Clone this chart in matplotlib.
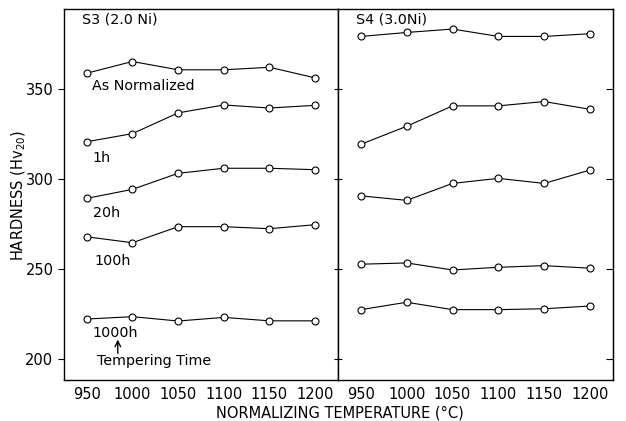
import numpy as np
import matplotlib.pyplot as plt

temps = [950, 1000, 1050, 1100, 1150, 1200]

# S3 (2.0Ni)
s3_norm = [358.7, 365.2, 360.6, 360.6, 362.0, 356.1]
s3_1h = [320.7, 325.2, 336.7, 341.1, 339.4, 340.9]
s3_20h = [289.3, 294.3, 303.2, 306.0, 306.0, 305.2]
s3_100h = [268.0, 264.7, 273.6, 273.6, 272.5, 274.7]
s3_1000h = [222.4, 223.7, 221.3, 223.3, 221.4, 221.4]

# S4 (3.0Ni)
s4_norm = [379.1, 381.3, 383.2, 379.1, 379.1, 380.6]
s4_1h = [319.3, 329.3, 340.6, 340.6, 343.0, 338.7]
s4_20h = [290.7, 288.2, 297.6, 300.4, 297.6, 305.0]
s4_100h = [252.8, 253.5, 249.6, 251.1, 252.0, 250.6]
s4_1000h = [227.6, 231.7, 227.6, 227.6, 228.1, 229.6]

s3_series = [s3_norm, s3_1h, s3_20h, s3_100h, s3_1000h]
s4_series = [s4_norm, s4_1h, s4_20h, s4_100h, s4_1000h]

plt.rcParams['font.family'] = 'DejaVu Sans'
fig = plt.figure(figsize=(6.26, 4.21), dpi=100)
ax1 = fig.add_axes([0.102, 0.097, 0.438, 0.882])
ax2 = fig.add_axes([0.540, 0.097, 0.439, 0.882], sharey=ax1)

style = dict(color='black', lw=0.8, marker='o', ms=5, mfc='white', mec='black', mew=0.8)
for s in s3_series:
    ax1.plot(temps, s, **style)
for s in s4_series:
    ax2.plot(temps, s, **style)

for ax in (ax1, ax2):
    ax.set_xlim(925, 1225)
    ax.set_xticks(temps)
    ax.tick_params(axis='x', length=0, labelsize=10.5, pad=5)
    for sp in ax.spines.values():
        sp.set_linewidth(1.0)

ax1.set_ylim(188.5, 394.4)
ax1.set_yticks([200, 250, 300, 350])
ax1.tick_params(axis='y', direction='out', length=4, labelsize=10.5)
ax2.tick_params(axis='y', direction='inout', length=6, labelleft=False)
ax2r = ax2.secondary_yaxis('right')
ax2r.set_yticks([200, 250, 300, 350])
ax2r.tick_params(direction='in', length=5, labelright=False)

# annotations
fs = 10.3
ax1.text(944.5, 388.3, 'S3 (2.0 Ni)', fontsize=fs, va='center', ha='left')
ax2.text(944.9, 388.3, 'S4 (3.0Ni)', fontsize=fs, va='center', ha='left')
ax1.text(955.5, 351.7, 'As Normalized', fontsize=fs, va='center')
ax1.text(956.6, 311.7, '1h', fontsize=fs, va='center')
ax1.text(956.6, 281.0, '20h', fontsize=fs, va='center')
ax1.text(958.8, 254.4, '100h', fontsize=fs, va='center')
ax1.text(956.6, 214.4, '1000h', fontsize=fs, va='center')
ax1.annotate('', xy=(984, 211.0), xytext=(984, 203.4),
             arrowprops=dict(arrowstyle='->', lw=1.0, color='black',
                             shrinkA=0, shrinkB=0))
ax1.text(961, 198.9, 'Tempering Time', fontsize=fs, va='center')

fig.text(0.030, 0.537, 'HARDNESS (Hv$_{20}$)', rotation=90, fontsize=10.5,
         ha='center', va='center')
fig.text(0.543, 0.020, 'NORMALIZING TEMPERATURE (°C)', fontsize=10.5,
         ha='center', va='center')

fig.savefig('out.png', dpi=100)
